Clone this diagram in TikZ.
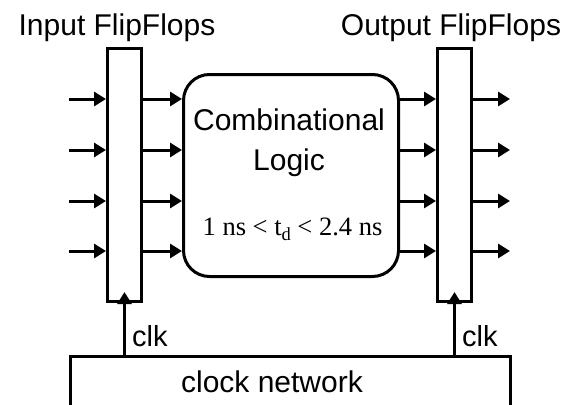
\documentclass[tikz,border=0pt]{standalone}
\usepackage{fontspec}
\setmainfont{Liberation Sans}
\newfontfamily\timesfont{Liberation Serif}
\usetikzlibrary{arrows.meta,calc}
\begin{document}
\begin{tikzpicture}[x=1pt,y=-1pt,
  box/.style={draw,line width=3pt,inner sep=0pt},
  arr/.style={line width=3pt,-{Triangle[length=12pt,width=14pt]}},
  lbl/.style={font=\fontsize{30}{34}\selectfont,inner sep=0pt,anchor=base},
  small/.style={font=\fontsize{29}{32}\selectfont,inner sep=0pt,anchor=base west}]
\useasboundingbox (0,0) rectangle (569,404);
% boxes
\node[box,minimum width=34pt,minimum height=253pt] (inFF) at (124.5,175) {};
\node[box,minimum width=34pt,minimum height=253pt] (outFF) at (454.5,175) {};
\node[box,rounded corners=26pt,minimum width=215pt,minimum height=202pt] (comb) at (291,175.5) {};
\node[box,anchor=north,minimum width=440pt,minimum height=90pt] (clknet) at (290.5,355) {};
% texts
\node[lbl] (tin) at (117,35) {Input FlipFlops};
\node[lbl] (tout) at (451,35) {Output FlipFlops};
\node[lbl] (tcomb) at (289,130) {Combinational};
\node[lbl] (tlogic) at (289,170) {Logic};
\node[inner sep=0pt,anchor=base,font=\timesfont\fontsize{26.5}{30}\selectfont] (tdelay) at (292.5,235)
  {1 ns < t\raisebox{-0.22em}{\fontsize{18.5}{20}\selectfont d} < 2.4 ns};
\node[lbl] (tclknet) at (272,392) {clock network};
\node[small] (clk1) at (132,346) {clk};
\node[small] (clk2) at (462,346) {clk};
% data arrows
\foreach \y [count=\i] in {99,150,201,251} {
  \coordinate (in\i) at (69,\y);
  \coordinate (out\i) at (510,\y);
  \draw[arr] (in\i) -- (in\i -| inFF.west);
  \draw[arr] (in\i -| inFF.east) -- (in\i -| comb.west);
  \draw[arr] (in\i -| comb.east) -- (in\i -| outFF.west);
  \draw[arr] (in\i -| outFF.east) -- (out\i);
}
% clock arrows
\coordinate (ck1) at ($(inFF.south)+(0,-11)$);
\coordinate (ck2) at ($(outFF.south)+(0,-11)$);
\draw[arr] (ck1 |- clknet.north) -- (ck1);
\draw[arr] (ck2 |- clknet.north) -- (ck2);
\end{tikzpicture}
\end{document}
